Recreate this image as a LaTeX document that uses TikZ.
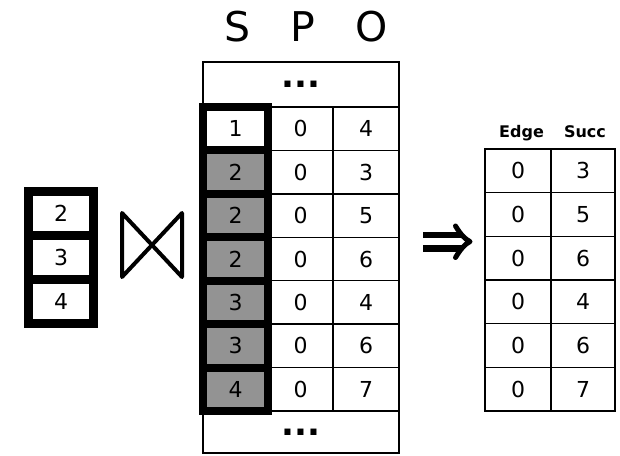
\documentclass[tikz,border=0pt]{standalone}
\usepackage{fontspec}
\setmainfont{DejaVu Sans}
\definecolor{cellgray}{RGB}{147,147,147}
\begin{document}
\begin{tikzpicture}[x=1pt,y=-1pt,
  digits/.style={font=\fontsize{22}{26}\selectfont},
  cell/.style={draw, line width=1.4pt, minimum width=65pt, minimum height=43.43pt,
               inner sep=0pt, digits},
  keycell/.style={cell, line width=8pt, minimum width=65pt},
  leftcell/.style={draw, line width=9pt, fill=white, minimum width=65pt,
                   minimum height=44pt, inner sep=0pt, digits},
  outcell/.style={cell, minimum height=43.67pt},
  dotsrow/.style={draw, line width=1.4pt, minimum width=196pt, inner sep=0pt,
                  font=\fontsize{34}{34}\bfseries\selectfont},
  colhead/.style={anchor=base, inner sep=0pt, font=\fontsize{41}{41}\selectfont},
  outhead/.style={anchor=base, inner sep=0pt, font=\fontsize{16}{16}\bfseries\selectfont},
  symbol/.style={line width=4pt, line join=round, line cap=round}
]
\useasboundingbox (0,0) rectangle (620,455);

% column headings of the triple table
\node[colhead] (hS) at (238,41.5) {S};
\node[colhead] (hP) at (303,41.5) {P};
\node[colhead] (hO) at (372,41.5) {O};

% elided rows above and below
\node[dotsrow, minimum height=45pt] (dotsTop) at (301,84.5) {...};
\node[dotsrow, minimum height=42pt] (dotsBot) at (301,432) {...};

% predicate and object columns
\foreach \o [count=\i] in {4,3,5,6,4,6,7} {
  \pgfmathsetmacro\yc{107+43.43*(\i-0.5)}
  \node[cell] (p\i) at (300.5,\yc) {0};
  \node[cell, minimum width=66pt] (o\i) at (366,\yc) {\o};
}

% subject column, framed as the join key
\foreach \s [count=\i] in {1,2,2,2,3,3,4} {
  \pgfmathsetmacro\yc{107+43.43*(\i-0.5)}
  \ifnum\i=1
    \node[keycell, fill=white] (s\i) at (235.5,\yc) {\s};
  \else
    \node[keycell, fill=cellgray] (s\i) at (235.5,\yc) {\s};
  \fi
}

% input column on the left
\foreach \v [count=\i] in {2,3,4} {
  \node[leftcell] (in\i) at (61,169.5+44*\i) {\v};
}

% join symbol
\coordinate (jTL) at (122,213);
\coordinate (jBL) at (122,277);
\coordinate (jTR) at (182,213);
\coordinate (jBR) at (182,277);
\draw[symbol] (jTL) -- (jBL) -- (jTR) -- (jBR) -- cycle;

% implication arrow
\coordinate (aTop) at (423,235);
\coordinate (aTopEnd) at (461,235);
\coordinate (aBot) at (423,248.3);
\coordinate (aBotEnd) at (461,248.3);
\coordinate (hUp) at (455.5,226);
\coordinate (hTip) at (470,241.6);
\coordinate (hDown) at (455.5,257.5);
\draw[line width=6.5pt] (aTop) -- (aTopEnd);
\draw[line width=6.5pt] (aBot) -- (aBotEnd);
\draw[line width=5pt, line cap=round, line join=round]
  (hUp) .. controls (461,235) and (465,239) .. (hTip)
        .. controls (465,244) and (461,248.5) .. (hDown);

% result table
\node[outhead] (hEdge) at (521.5,137.5) {Edge};
\node[outhead] (hSucc) at (585,137.5) {Succ};
\foreach \v [count=\i] in {3,5,6,4,6,7} {
  \pgfmathsetmacro\yc{149+43.67*(\i-0.5)}
  \node[outcell, minimum width=66pt] (e\i) at (518,\yc) {0};
  \node[outcell, minimum width=64pt] (n\i) at (583,\yc) {\v};
}
\end{tikzpicture}
\end{document}
